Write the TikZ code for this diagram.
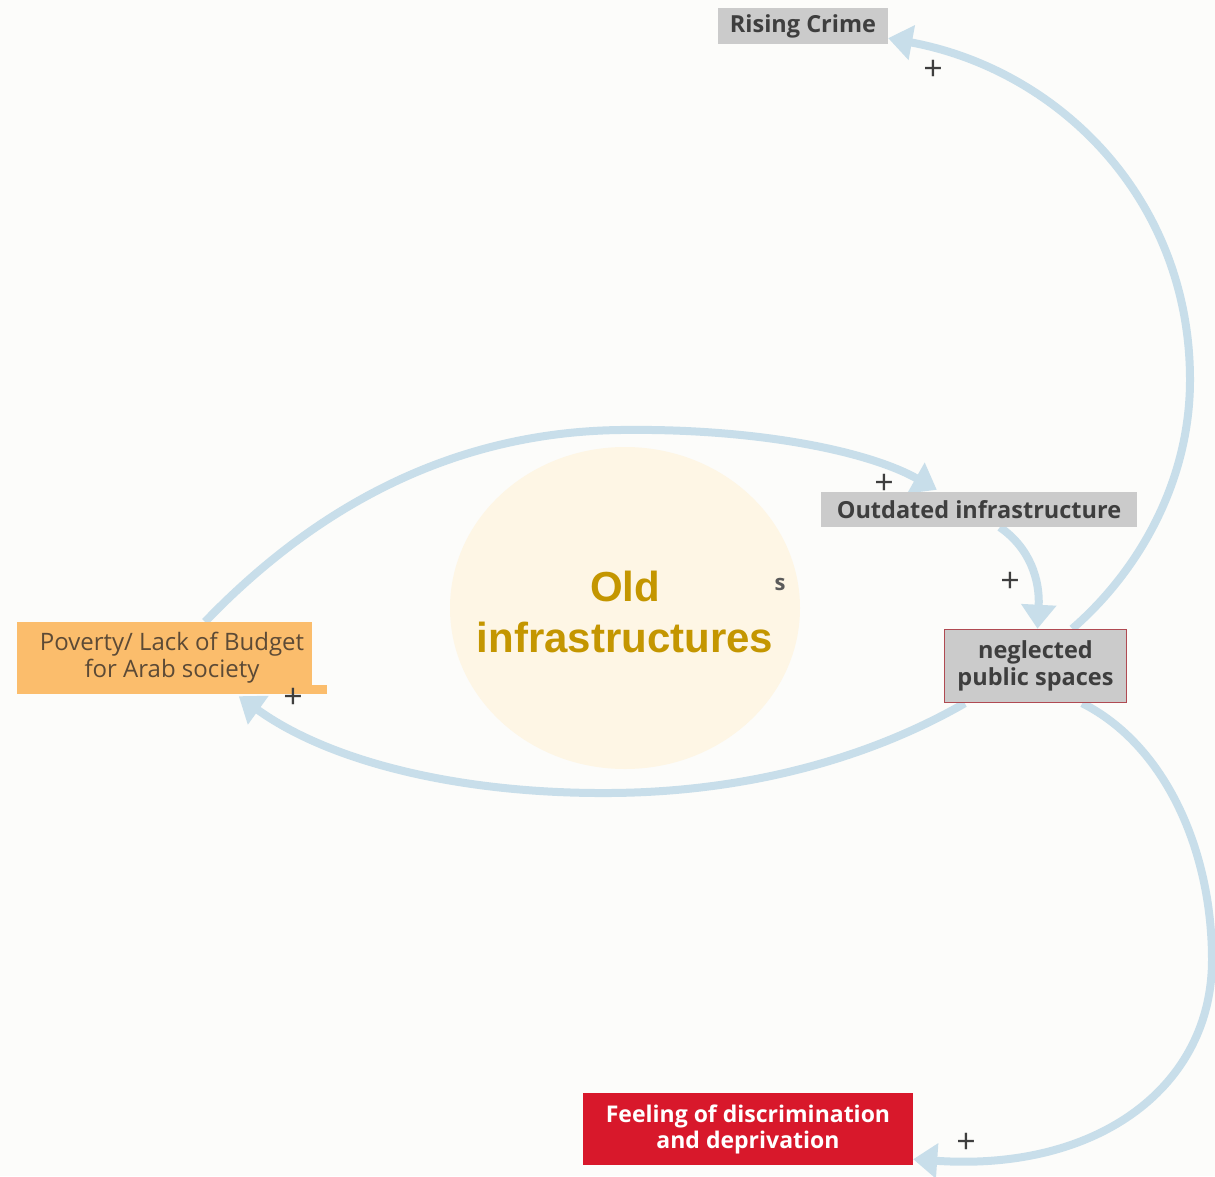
\documentclass[tikz,border=0pt]{standalone}
\usepackage{fontspec}
\setmainfont{Open Sans}
\newfontfamily\arialbold{Liberation Sans}
\usetikzlibrary{arrows.meta,shapes.geometric}
\pgfdeclarelayer{back}
\pgfdeclarelayer{arrows}
\pgfsetlayers{back,arrows,main}
\definecolor{bgc}{HTML}{FCFCFA}
\definecolor{greybox}{HTML}{CBCBCB}
\definecolor{greytxt}{HTML}{3E3E3E}
\definecolor{orangebox}{HTML}{FBBD6C}
\definecolor{browntxt}{HTML}{5C4A36}
\definecolor{redbox}{HTML}{D8182B}
\definecolor{redborder}{HTML}{B04A52}
\definecolor{circfill}{HTML}{FEF6E5}
\definecolor{gold}{HTML}{C49600}
\definecolor{arrowc}{HTML}{C8DEEA}
\tikzset{
  box/.style={rectangle, inner sep=0pt, align=center, font=\fontsize{23.5}{26.5}\selectfont\bfseries},
  greyb/.style={box, fill=greybox, text=greytxt},
  loopar/.style={draw=arrowc, line width=8pt, -{Triangle[length=24pt,width=34pt]}},
  plus/.style={text=greytxt, inner sep=0pt, text depth=0pt, font=\fontsize{34}{34}\selectfont},
}
\begin{document}
\begin{tikzpicture}[x=1pt,y=-1pt]
\begin{pgfonlayer}{back}
\fill[bgc] (0,0) rectangle (1215,1176);
\end{pgfonlayer}
\useasboundingbox (0,0) rectangle (1215,1176);

\begin{pgfonlayer}{back}
\node[ellipse, fill=circfill, minimum width=350pt, minimum height=322pt, inner sep=0pt] (circ) at (625,608) {};
\end{pgfonlayer}
\node[text=gold, align=center, font=\arialbold\bfseries\fontsize{42}{51}\selectfont] (oldtxt) at (625,612) {Old\\infrastructures};
\node[text=greytxt!85, font=\fontsize{22}{22}\selectfont\bfseries] (sfrag) at (780,584) {s};

\node[greyb, minimum width=170pt, minimum height=36pt] (crime) at (803,26) {Rising Crime};
\node[greyb, minimum width=316pt, minimum height=35pt] (outd) at (979,509.5) {Outdated infrastructure};
\node[greyb, draw=redborder, line width=1.5pt, minimum width=182pt, minimum height=73pt] (negl) at (1035.5,666) {neglected\\public spaces};
\node[box, fill=orangebox, text=browntxt, font=\fontsize{24}{27}\selectfont, minimum width=310pt, minimum height=72pt] (pov) at (172,658) {Poverty/ Lack of Budget\\for Arab society};
\fill[bgc] ([xshift=1pt,yshift=1pt]pov.north east) rectangle ++(-16,64.5);
\node[box, fill=redbox, text=white, font=\fontsize{23}{26}\selectfont\bfseries, minimum width=330pt, minimum height=72pt] (feel) at (748,1129) {Feeling of discrimination\\and deprivation};

\begin{pgfonlayer}{arrows}
\draw[loopar] ([xshift=33pt]pov.north) .. controls (330,492) and (470,432) .. (620,430)
   .. controls (760,428) and (870,452) .. ([xshift=116pt,yshift=2pt]outd.north west);
\draw[loopar] ([xshift=179pt]outd.south west) .. controls (1030,548) and (1040,580) .. ([xshift=2pt]negl.north);
\draw[loopar] ([xshift=-55pt]negl.north east) .. controls (1140,570) and (1190,480) .. (1190,380)
   .. controls (1190,200) and (1060,70) .. ([yshift=6pt]crime.south east);
\draw[loopar] ([xshift=21pt]negl.south west) .. controls (880,752) and (760,792) .. (610,793)
   .. controls (460,794) and (330,762) .. ([xshift=222pt,yshift=-2pt]pov.south west);
\draw[loopar] ([xshift=-45pt]negl.south east) .. controls (1165,745) and (1212,850) .. (1212,960)
   .. controls (1212,1085) and (1100,1172) .. ([yshift=6pt]feel.south east);
\end{pgfonlayer}

\node[plus] (p1) at (884,484) {+};
\node[plus] (p2) at (1010,582) {+};
\node[plus] (p3) at (933,70) {+};
\node[plus] (p4) at (293,698) {+};
\node[plus] (p5) at (966,1143) {+};
\end{tikzpicture}
\end{document}
